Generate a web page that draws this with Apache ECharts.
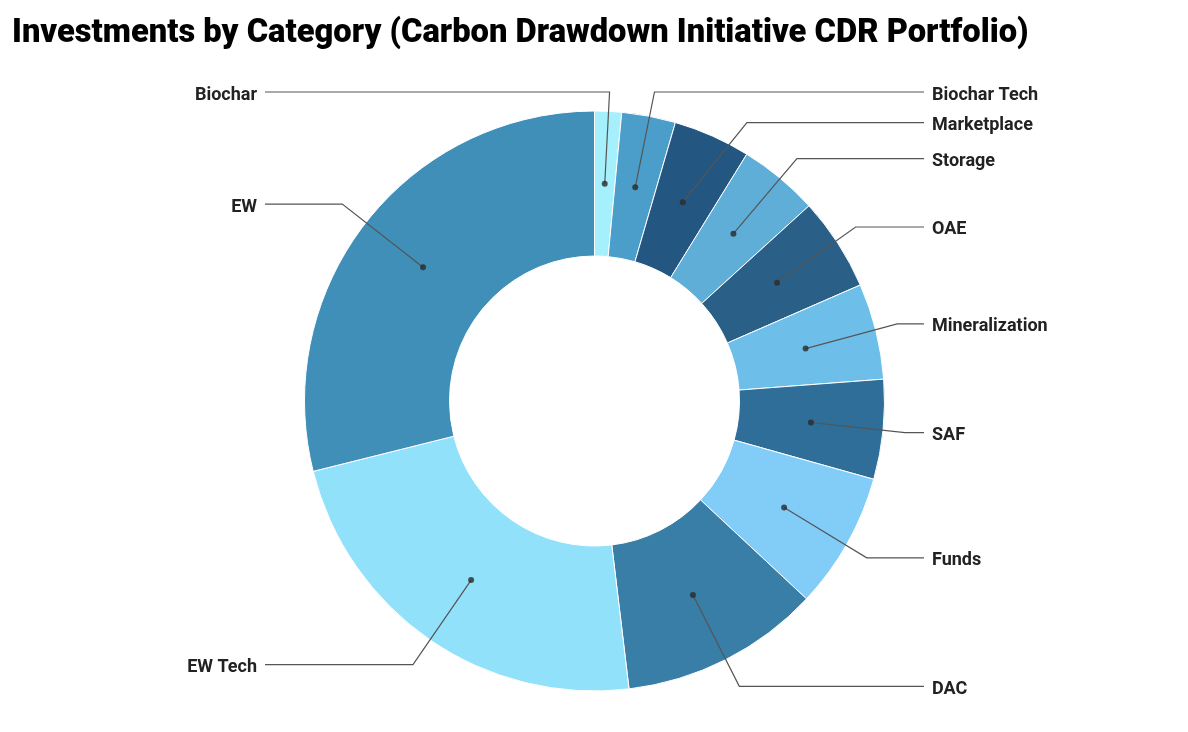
<!DOCTYPE html>
<html>
<head>
<meta charset="utf-8">
<script src="https://cdn.jsdelivr.net/npm/echarts@6/dist/echarts.min.js"></script>
<style>
  html, body { margin: 0; padding: 0; background: #ffffff; }
  #chart { width: 1188px; height: 732px; }
</style>
</head>
<body>
<div id="chart"></div>
<script>
// ---- data ----
const categories = ['Biochar', 'Biochar Tech', 'Marketplace', 'Storage', 'OAE', 'Mineralization', 'SAF', 'Funds', 'DAC', 'EW Tech', 'EW'];
const values = [1.5, 3.0, 4.3, 4.45, 5.2, 5.35, 5.55, 7.6, 11.15, 23.0, 28.9];
const sliceColors = ['#a6effc', '#4a9ec9', '#235680', '#5eaed8', '#2a6087', '#6dbfe9', '#2e6e98', '#82cdf8', '#387ea6', '#92e1fb', '#3f8fb8'];
const labelsForcedLeft = ['Biochar'];
const titleText = 'Investments by Category (Carbon Drawdown Initiative CDR Portfolio)';

// ---- geometry / style ----
const CX = 594.5, CY = 401;
const R_IN = 145, R_OUT = 290;
const R_MID = (R_IN + R_OUT) / 2;
const ELBOW_R = 320;
const LINE_END = 329.5;   // horizontal distance of connector ends from centre
const TEXT_GAP = 8;
const TEXT_DY = 3;
const LABEL_MIN_Y = 92;
const FONT = 'Roboto, "Noto Sans", sans-serif';

const chart = echarts.init(document.getElementById('chart'), null, { renderer: 'canvas' });

const pieData = categories.map((c, i) => ({ name: c, value: values[i], itemStyle: { color: sliceColors[i] } }));

const mainLabelData = categories.map((c, i) => ({
  name: c, value: values[i],
  label: { show: labelsForcedLeft.indexOf(c) < 0 },
  labelLine: { show: labelsForcedLeft.indexOf(c) < 0 }
}));
const forcedLabelData = categories.map((c, i) => ({
  name: c, value: values[i],
  label: { show: labelsForcedLeft.indexOf(c) >= 0 },
  labelLine: { show: labelsForcedLeft.indexOf(c) >= 0 }
}));

// mid angles for dots
const total = values.reduce((a, b) => a + b, 0);
let acc = 0;
const dotData = values.map(v => { const mid = acc + v / 2; acc += v; return [R_MID / R_OUT, mid]; });

function makeLayout(p) {
  const pts = p.labelLinePoints;
  if (!pts) return {};
  const forced = labelsForcedLeft.indexOf(p.text) >= 0;
  const isLeft = forced || pts[1][0] < CX;
  const dir = isLeft ? -1 : 1;
  const endX = CX + dir * LINE_END;
  const y = Math.max(pts[1][1], LABEL_MIN_Y);
  return {
    x: endX + dir * TEXT_GAP,
    y: y + TEXT_DY,
    align: isLeft ? 'right' : 'left',
    verticalAlign: 'middle',
    labelLinePoints: [pts[0], [pts[1][0], y], [endX, y]]
  };
}

const labelSeriesBase = {
  type: 'pie',
  left: 0, right: 0, top: 0, bottom: 0,
  center: [CX, CY],
  radius: [0, R_MID],
  startAngle: 90,
  clockwise: true,
  silent: true,
  animation: false,
  avoidLabelOverlap: true,
  itemStyle: { color: 'rgba(0,0,0,0)', borderWidth: 0 },
  emphasis: { disabled: true },
  label: {
    show: true,
    position: 'outside',
    alignTo: 'none',
    color: '#222222',
    fontFamily: FONT,
    fontSize: 18,
    fontWeight: 'bold',
    lineHeight: 34,
    distanceToLabelLine: TEXT_GAP
  },
  labelLine: {
    show: true,
    length: ELBOW_R - R_MID,
    length2: 9,
    smooth: false,
    lineStyle: { color: '#555555', width: 1.2 }
  },
  labelLayout: makeLayout,
  z: 3
};

const option = {
  backgroundColor: '#ffffff',
  animation: false,
  title: {
    text: titleText,
    left: 7,
    top: 12,
    textStyle: { fontFamily: FONT, fontSize: 32.7, fontWeight: 900, color: '#000000' }
  },
  polar: { center: [CX, CY], radius: R_OUT },
  angleAxis: { type: 'value', min: 0, max: total, startAngle: 90, clockwise: true, show: false },
  radiusAxis: { type: 'value', min: 0, max: 1, show: false },
  series: [
    {
      type: 'pie',
      left: 0, right: 0, top: 0, bottom: 0,
      center: [CX, CY],
      radius: [R_IN, R_OUT],
      startAngle: 90,
      clockwise: true,
      silent: true,
      animation: false,
      label: { show: false },
      labelLine: { show: false },
      itemStyle: { borderColor: '#ffffff', borderWidth: 1 },
      emphasis: { disabled: true },
      data: pieData,
      z: 2
    },
    Object.assign({}, labelSeriesBase, { data: mainLabelData }),
    Object.assign({}, labelSeriesBase, { data: forcedLabelData }),
    {
      type: 'scatter',
      coordinateSystem: 'polar',
      symbol: 'circle',
      symbolSize: 6,
      silent: true,
      itemStyle: { color: '#2b2b2b' },
      data: dotData,
      z: 5
    }
  ]
};
chart.setOption(option);
</script>
</body>
</html>
